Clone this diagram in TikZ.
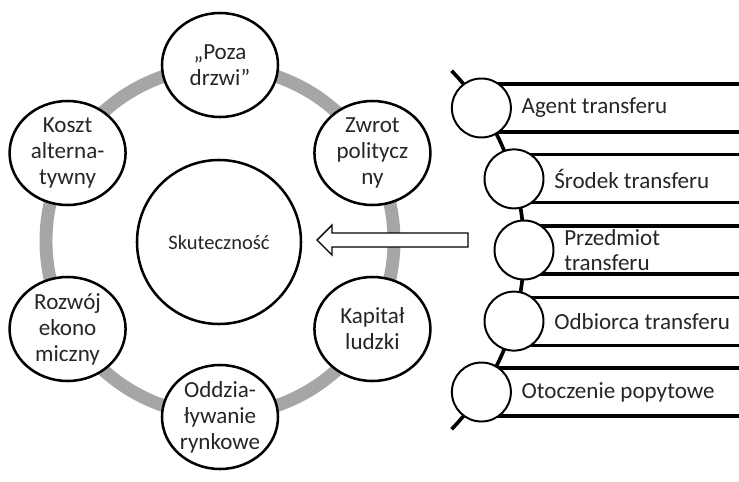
\documentclass[tikz,border=0pt]{standalone}
\usepackage{fontspec}
\setmainfont{Carlito}
\usepackage{tikz}
\usetikzlibrary{shapes.geometric,positioning,calc}
\definecolor{ringgray}{RGB}{166,166,166}
\definecolor{txtgray} {RGB}{38,38,38}
\tikzset{
  % Ring of factors
  ringnode/.style={ellipse, draw=black, line width=1.8pt, fill=white,
                   minimum width=2.9cm, minimum height=2.6cm, inner sep=0pt},
  ringtxt/.style ={align=center, inner sep=0pt, text=txtgray,
                   font=\fontsize{16.4}{18.5}\selectfont},
  ringline/.style={draw=ringgray, line width=9.2pt},
  midnode/.style ={circle, draw=black, line width=1.8pt, fill=white,
                   minimum size=4.1cm, text=txtgray,
                   font=\fontsize{14.6}{17}\selectfont},
  % List on the right
  listdot/.style ={circle, draw=black, line width=1.4pt, fill=white,
                   minimum size=1.475cm, inner sep=0pt},
  listlab/.style ={anchor=west, align=left, inner sep=0pt, text=txtgray,
                   font=\fontsize{16.4}{17.8}\selectfont},
  band/.style    ={draw=black, line width=2.2pt},
  spineline/.style={draw=black, line width=2.6pt},
  % Block arrow
  blockarr/.style={draw=black, line width=1pt, fill=white, line join=miter},
}

\begin{document}
\begin{tikzpicture}[x=1cm,y=1cm]
    \useasboundingbox (0,0) rectangle (18.475,12.025);

    % ── Ring of factors ────────────────────────────────────
    \coordinate (ringc) at (5.5,6.0);
    \draw[ringline] (ringc) circle[radius=4.35];

    \node[ringnode] (poza)   at ($(ringc)+(90:4.4)$)  {};
    \node[ringnode] (zwrot)  at ($(ringc)+(30:4.4)$)  {};
    \node[ringnode] (kapital) at ($(ringc)+(-30:4.4)$) {};
    \node[ringnode] (oddz)   at ($(ringc)+(-90:4.4)$) {};
    \node[ringnode] (rozwoj) at ($(ringc)+(210:4.4)$) {};
    \node[ringnode] (koszt)  at ($(ringc)+(150:4.4)$) {};

    \node[ringtxt] (poza-t)    at (poza)    {„Poza\\drzwi”};
    \node[ringtxt] (zwrot-t)   at (zwrot)   {Zwrot\\politycz\\ny};
    \node[ringtxt] (kapital-t) at (kapital) {Kapitał\\ludzki};
    \node[ringtxt] (oddz-t)    at (oddz)    {Oddzia-\\ływanie\\rynkowe};
    \node[ringtxt] (rozwoj-t)  at (rozwoj)  {Rozwój\\ekono\\miczny};
    \node[ringtxt] (koszt-t)   at (koszt)   {Koszt\\alterna-\\tywny};

    % ── Centre ─────────────────────────────────────────────
    \node[midnode] (skut) at (5.475,5.975) {Skuteczność};

    % ── Block arrow ────────────────────────────────────────
    \coordinate (arrtip) at (7.925,6.025);
    \draw[blockarr] (arrtip) -- ++(0.375,0.375) -- ++(0,-0.2) -- ++(3.4,0)
          -- ++(0,-0.35) -- ++(-3.4,0) -- ++(0,-0.2) -- cycle;

    % ── List on the right ──────────────────────────────────
    \coordinate (spine) at (6.65,5.775);
    \coordinate (redge) at (18.475,0);
    \foreach \a/\i in {33.4/1,16/2,0/3,-16/4,-33.4/5}{
      \coordinate (p\i)  at ($(spine)+(\a:6.45)$);
      \coordinate (hi\i) at ($(p\i)+(0,0.6)$);
      \coordinate (lo\i) at ($(p\i)+(0,-0.6)$);
      \draw[band] (hi\i) -- (redge |- hi\i);
      \draw[band] (lo\i) -- (redge |- lo\i);
    }
    \draw[spineline] (spine) ++(44:6.45) arc[start angle=44, end angle=-44,
          radius=6.45];
    \foreach \i in {1,...,5}
      \node[listdot] (d\i) at (p\i) {};

    \node[listlab, right=1.0cm of d1.center] (agent)  {Agent transferu};
    \node[listlab, right=1.0cm of d2.center] (srodek) {Środek transferu};
    \node[listlab, right=1.0cm of d3.center] (przedm) {Przedmiot\\transferu};
    \node[listlab, right=1.0cm of d4.center] (odb)    {Odbiorca transferu};
    \node[listlab, right=1.0cm of d5.center] (otocz)  {Otoczenie popytowe};

\end{tikzpicture}
\end{document}
